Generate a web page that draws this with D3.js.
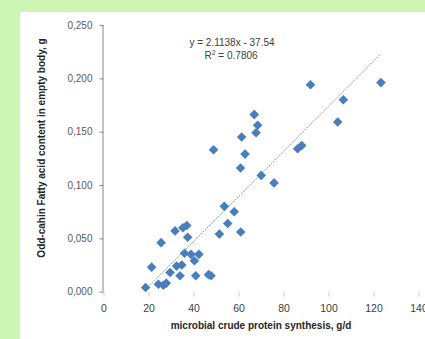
<!DOCTYPE html>
<html>
<head>
<meta charset="utf-8">
<script src="https://cdn.jsdelivr.net/npm/d3@7"></script>
<style>
  body { margin: 0; background: #cdf6b5; }
  svg { display: block; }
</style>
</head>
<body>
<svg width="425" height="339"></svg>
<script>
// microbial crude protein synthesis, g/d
var mcp = [123.3, 92.0, 106.6, 67.0, 104.1, 68.5, 67.8, 61.4, 48.9, 86.3,
           88.1, 62.9, 60.9, 70.1, 75.8, 53.7, 58.1, 55.2, 51.5, 61.0,
           31.8, 35.3, 37.0, 25.6, 37.4, 36.0, 38.9, 42.4, 40.4, 21.4,
           32.5, 34.8, 29.6, 34.0, 41.0, 46.7, 47.8, 18.7, 24.4, 26.6, 27.9]
// odd-chain fatty acid content, g
var ocfa = [0.196, 0.194, 0.180, 0.166, 0.159, 0.156, 0.149, 0.145, 0.133, 0.134,
            0.137, 0.129, 0.116, 0.109, 0.102, 0.080, 0.075, 0.064, 0.054, 0.056,
            0.057, 0.060, 0.062, 0.046, 0.051, 0.036, 0.035, 0.035, 0.029, 0.023,
            0.024, 0.025, 0.018, 0.015, 0.015, 0.016, 0.015, 0.004, 0.007, 0.006, 0.008]
var xTicks = [0, 20, 40, 60, 80, 100, 120, 140]
var yTicks = [0, 0.05, 0.1, 0.15, 0.2, 0.25]
var slope = 2.1138, intercept = -37.54  // y*1000 = slope*x + intercept

var svg = d3.select("svg")
svg.append("rect").attr("x", 20).attr("y", 12).attr("width", 405).attr("height", 327).attr("fill", "#fff")

var x = d3.scaleLinear().domain([0, 140]).range([103.5, 418.5])
var y = d3.scaleLinear().domain([0, 0.25]).range([291.7, 25])

var fmt = function(d) { return d3.format(".3f")(d).replace(".", ",") }

// y axis
var ya = svg.append("g").attr("transform", "translate(103.5,0)")
  .call(d3.axisLeft(y).tickValues(yTicks).tickFormat(fmt).tickSize(4).tickPadding(7))
ya.select(".domain").attr("stroke", "#888").attr("d", "M-0.5,25V291.7")
ya.selectAll(".tick line").attr("stroke", "#888")
ya.selectAll("text").attr("fill", "#595959").style("font", "10px 'Liberation Sans', Arial, sans-serif")

// x axis (ticks only)
var xa = svg.append("g").attr("transform", "translate(0,291.7)")
  .call(d3.axisBottom(x).tickValues(xTicks).tickSize(5).tickPadding(8))
xa.select(".domain").remove()
xa.selectAll(".tick line").attr("stroke", "#ccc")
xa.selectAll("text").attr("fill", "#404040").style("font", "10.5px 'Liberation Sans', Arial, sans-serif")

// trend line
var xr = d3.extent(mcp)
svg.append("line")
  .attr("x1", x(xr[0])).attr("y1", y((slope*xr[0] + intercept)/1000))
  .attr("x2", x(xr[1])).attr("y2", y((slope*xr[1] + intercept)/1000))
  .attr("stroke", "#7f7f7f").attr("stroke-width", 0.8).attr("stroke-dasharray", "2,1")

// points
var diamond = d3.symbol().type(d3.symbolSquare).size(46)
svg.append("g").selectAll("path").data(mcp).join("path")
  .attr("d", diamond)
  .attr("transform", function(d, i) { return "translate(" + x(d) + "," + y(ocfa[i]) + ") rotate(45)" })
  .attr("fill", "#4a7ebb")

// equation
var eq = svg.append("text").attr("text-anchor", "middle").attr("fill", "#404040")
  .style("font", "10px 'Liberation Sans', Arial, sans-serif")
eq.append("tspan").attr("x", 232).attr("y", 46).text("y = 2.1138x - 37.54")
var r2 = eq.append("tspan").attr("x", 231).attr("y", 59).text("R")
r2.append("tspan").attr("dy", -4).style("font-size", "7px").text("2")
eq.append("tspan").attr("dy", 4).text(" = 0.7806")

// axis titles
svg.append("text").attr("x", 261).attr("y", 329).attr("text-anchor", "middle")
  .attr("fill", "#262626").style("font", "bold 10px 'Liberation Sans', Arial, sans-serif")
  .text("microbial crude protein synthesis, g/d")
svg.append("text").attr("transform", "translate(45,148) rotate(-90)").attr("text-anchor", "middle")
  .attr("fill", "#262626").style("font", "bold 10px 'Liberation Sans', Arial, sans-serif")
  .text("Odd-cahin Fatty acid content in empty body, g")
</script>
</body>
</html>
